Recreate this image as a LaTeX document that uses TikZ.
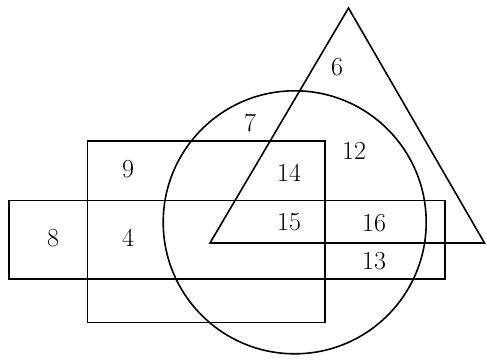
\documentclass[tikz,border=0pt]{standalone}
\usepackage{tikz}

\begin{document}
\begin{tikzpicture}[
        x=1pt, y=-1pt,
        shape line/.style={line width=1.6pt, line join=miter},
        num/.style={inner sep=0pt, font=\fontsize{26}{30}\selectfont},
    ]
        \useasboundingbox (0,0) rectangle (487,360);

        % the four sets
        \draw[shape line] (87.5,141) rectangle (325,322.5);
        \draw[shape line] (9,200.5) rectangle (445,279);
        \draw[shape line] (294.7,222.3) circle[radius=131.5pt];
        \draw[shape line] (348.5,8) -- (484.5,243) -- (210,243) -- cycle;

        % region numbers
        \node[num] (six)      at (337,67)  {6};
        \node[num] (seven)    at (250,123) {7};
        \node[num] (twelve)   at (354,151) {12};
        \node[num] (nine)     at (128,169) {9};
        \node[num] (fourteen) at (289,173) {14};
        \node[num] (eight)    at (53,238)  {8};
        \node[num] (four)     at (128,238) {4};
        \node[num] (fifteen)  at (289,222) {15};
        \node[num] (sixteen)  at (374,223) {16};
        \node[num] (thirteen) at (374,261) {13};
    \end{tikzpicture}
\end{document}
